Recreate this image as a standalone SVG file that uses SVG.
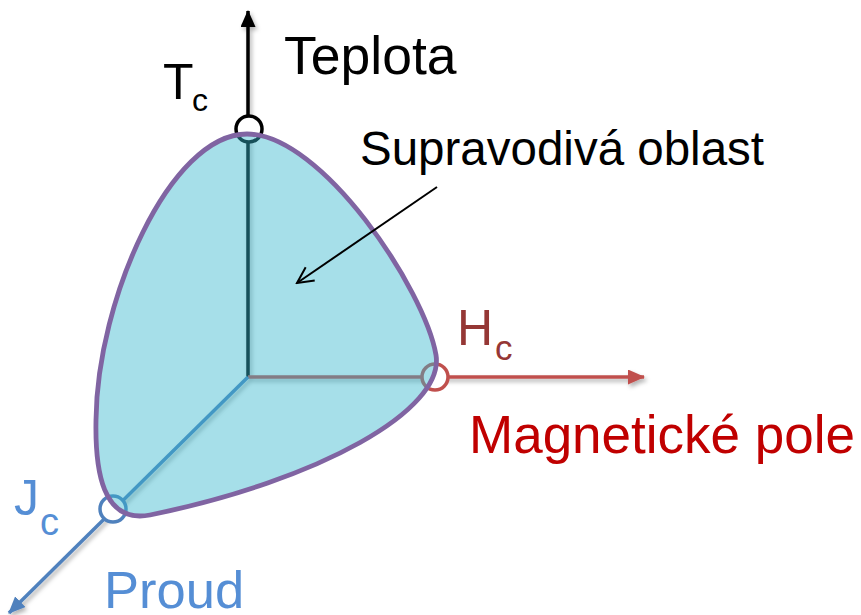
<svg xmlns="http://www.w3.org/2000/svg" width="861" height="615" viewBox="0 0 861 615">
  <style>
    text { font-family: "Liberation Sans", Arial, sans-serif; }
    .axis { stroke-width: 3.5; fill: none; }
    .ring { stroke-width: 3.5; fill: #ffffff; }
  </style>
  <defs>
    <filter id="sh" x="-20%" y="-20%" width="140%" height="140%">
      <feDropShadow dx="2" dy="3" stdDeviation="2" flood-color="#000" flood-opacity="0.3"/>
    </filter>
    <marker id="ahK" markerUnits="userSpaceOnUse" markerWidth="17" markerHeight="15" refX="16" refY="7.5" orient="auto">
      <path d="M0,0 L17,7.5 L0,15 Z" fill="#000000"/>
    </marker>
    <marker id="ahR" markerUnits="userSpaceOnUse" markerWidth="17" markerHeight="15" refX="16" refY="7.5" orient="auto">
      <path d="M0,0 L17,7.5 L0,15 Z" fill="#c0504d"/>
    </marker>
    <marker id="ahB" markerUnits="userSpaceOnUse" markerWidth="17" markerHeight="15" refX="16" refY="7.5" orient="auto">
      <path d="M0,0 L17,7.5 L0,15 Z" fill="#4f81bd"/>
    </marker>
    <marker id="ahOpen" markerUnits="userSpaceOnUse" markerWidth="20" markerHeight="20" refX="18" refY="10" orient="auto">
      <path d="M2,2 L18,10 L2,18" fill="none" stroke="#000" stroke-width="2"/>
    </marker>
  </defs>

  <g id="connectors" filter="url(#sh)">
    <line class="axis" x1="248" y1="377" x2="248" y2="11" stroke="#000000" marker-end="url(#ahK)"/>
    <line class="axis" x1="248" y1="377" x2="644" y2="377" stroke="#c0504d" marker-end="url(#ahR)"/>
    <line class="axis" x1="248" y1="377" x2="9" y2="613" stroke="#4f81bd" marker-end="url(#ahB)"/>
  </g>

  <g id="markers">
    <circle id="tc-ring" class="ring" cx="249" cy="129" r="13" stroke="#000000"/>
    <circle id="hc-ring" class="ring" cx="435" cy="377" r="13" stroke="#c0504d"/>
    <circle id="jc-ring" class="ring" cx="113" cy="509" r="13" stroke="#4f81bd"/>
  </g>

  <g id="region">
    <path d="M247,134 C322,134 425,290 436,355 C445,410 320,480 150,515 C102,524 95,470 96,420 C97,300 170,134 247,134 Z"
          fill="rgb(52,182,205)" fill-opacity="0.44" stroke="#8064a2" stroke-width="4.8"/>
  </g>

  <g id="pointer">
    <line x1="437" y1="187" x2="297" y2="283" stroke="#000" stroke-width="2" marker-end="url(#ahOpen)"/>
  </g>

  <g id="labels">
    <text x="284" y="74" font-size="53.5" fill="#000">Teplota</text>
    <text x="163" y="99" font-size="50" fill="#000">T</text>
    <text x="192" y="111" font-size="32" fill="#000">c</text>
    <text x="360" y="165" font-size="47.5" fill="#000">Supravodivá oblast</text>
    <text x="457" y="345" font-size="50" fill="#953735">H</text>
    <text x="495" y="360" font-size="35" fill="#953735">c</text>
    <text x="469" y="453" font-size="53" fill="#c00000">Magnetické pole</text>
    <text x="14" y="515" font-size="50" fill="#558ed5">J</text>
    <text x="40" y="535" font-size="38" fill="#558ed5">c</text>
    <text x="104" y="608" font-size="52.5" fill="#558ed5">Proud</text>
  </g>
</svg>
